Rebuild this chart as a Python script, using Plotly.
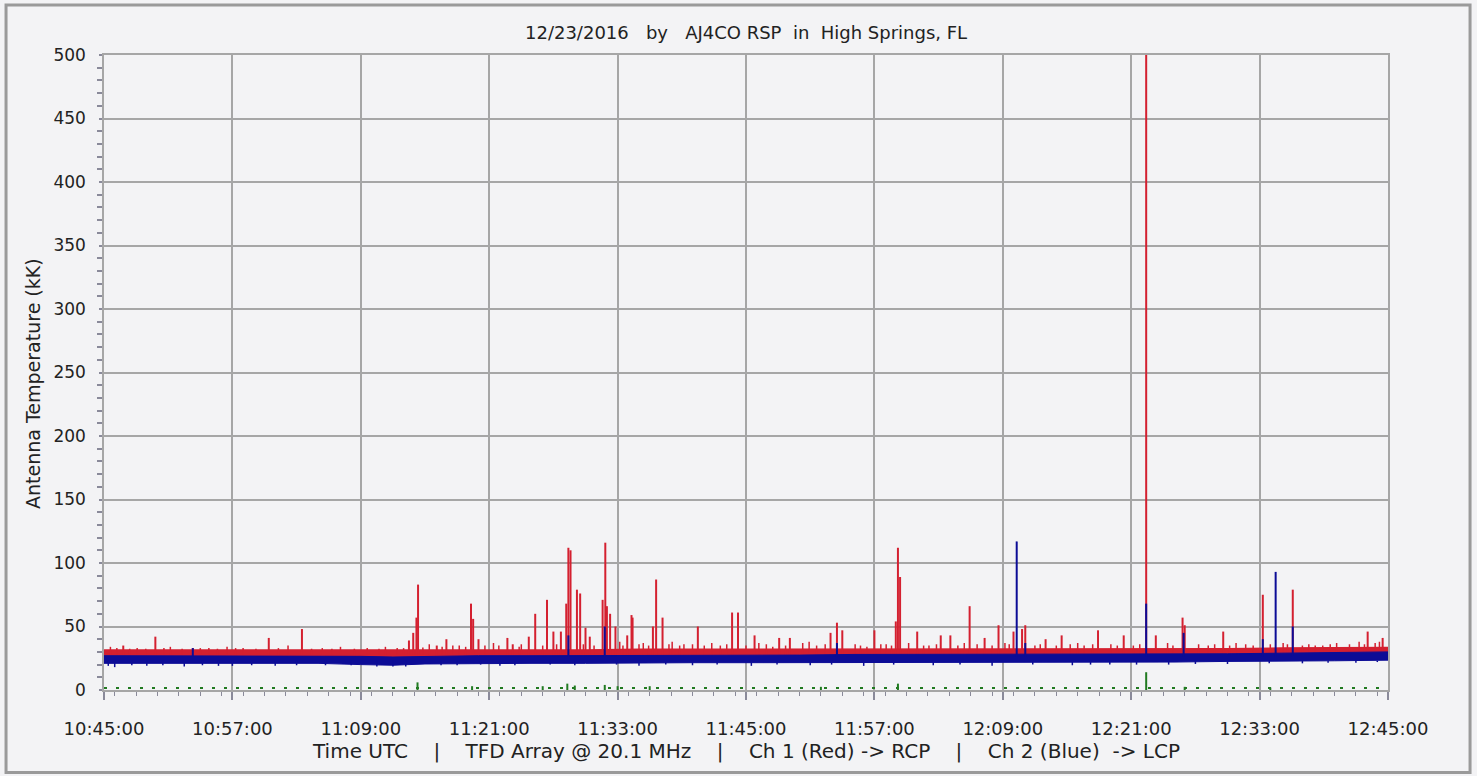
import pandas as pd
import plotly.graph_objects as go

# ---------------- data (minutes after 10:45:00 UTC, values in kK) ----------------
band_min = [0, 5, 10, 15, 20, 24, 27, 30, 35, 40, 45, 50, 55, 60, 65, 70, 75, 80, 85, 90, 95, 100, 105, 110, 115, 120]
red_hi = [31.5, 31.5, 31.5, 31.5, 31.5, 31, 31, 31, 31.5, 31.5, 31.5, 32, 32, 32, 32, 32.5, 32.5, 32.5, 32.5, 32.5, 32.5, 32.5, 32.5, 33, 33, 33.5]
red_lo = [25, 25, 25, 25, 25, 24, 24, 25, 25, 25, 25, 25, 25, 25, 25, 25, 25, 25, 25, 25, 26, 26, 26, 26, 27, 27]
blue_hi = [27, 27, 27, 27, 27, 26.5, 26, 26.5, 27, 27, 27, 27.5, 27.5, 27.5, 27.5, 28, 28, 28, 28, 28, 28, 28.5, 28.5, 29, 29.5, 30]
blue_lo = [21, 21, 21, 21, 21, 20, 19.5, 20.5, 21, 21, 21, 21.5, 21.5, 21.5, 21.5, 21.5, 21.5, 21.5, 21.5, 22, 22, 22, 22.5, 22.5, 23, 23.5]

red_spike_min = [1.8, 4.8, 8.3, 15.4, 18.5, 28.5, 28.9, 29.2, 29.35, 31.1, 32.0, 34.3, 34.5, 35.0, 37.7,
                 38.2, 39.7, 40.3, 41.4, 42.0, 42.7, 43.2, 43.4, 43.6, 44.2, 44.5, 45.0, 45.4, 46.6,
                 46.85, 47.0, 47.3, 47.8, 48.9, 49.3, 49.4, 51.3, 51.6, 52.2, 55.5, 58.7, 59.25, 60.8,
                 63.1, 64.1, 67.9, 68.5, 69.0, 72.0, 74.0, 74.2, 74.4, 76.0, 78.2, 79.1, 80.9, 82.3,
                 83.6, 85.0, 85.8, 86.1, 88.0, 89.5, 92.9, 95.3, 97.4, 98.3, 100.8, 101.0, 104.6,
                 108.3, 111.1, 118.1, 119.5]
red_spike_val = [35, 42, 33, 41, 48, 39, 45, 57, 83, 35, 40, 68, 56, 40, 41,
                 36, 42, 60, 71, 46, 46, 68, 112, 110, 79, 76, 49, 42, 71,
                 116, 66, 60, 50, 43, 59, 57, 50, 87, 57, 50, 61, 61, 43,
                 41, 41, 45, 53, 47, 47, 54, 112, 89, 46, 43, 43, 66, 41,
                 51, 46, 48, 51, 40, 43, 47, 43, 520, 43, 57, 51, 46,
                 75, 79, 46, 41]

red_small_min = [0.6, 1.2, 2.4, 3.1, 3.9, 5.6, 6.2, 7.3, 9.0, 9.8, 10.6, 11.5, 12.3, 13.0, 14.2,
                 16.3, 17.2, 19.4, 20.4, 21.3, 22.1, 23.4, 24.6, 25.7, 26.3, 27.4, 28.0, 29.8,
                 30.4, 31.6, 32.6, 33.2, 33.8, 35.6, 36.4, 36.9, 38.8, 39.0, 41.0, 42.3, 44.8,
                 45.8, 48.2, 48.5, 50.0, 50.4, 50.9, 52.8, 53.1, 53.8, 54.2, 55.0, 56.1, 56.8,
                 57.6, 58.2, 60.0, 61.2, 61.9, 62.5, 63.7, 65.3, 65.9, 66.6, 67.4, 70.2, 70.7,
                 71.3, 72.6, 73.1, 73.6, 75.2, 76.6, 77.1, 77.8, 79.8, 80.4, 81.6, 83.0, 84.2,
                 84.6, 87.0, 87.5, 89.0, 90.3, 91.0, 91.6, 92.4, 94.1, 94.7, 96.2, 96.8, 99.4,
                 99.9, 102.3, 103.2, 103.8, 105.2, 105.8, 106.7, 107.4, 109.0, 110.2, 110.6,
                 112.0, 112.6, 113.2, 113.9, 114.6, 115.2, 116.4, 117.3, 117.8, 118.8, 119.2]
red_small_val = [34, 33, 32.5, 33, 32.5, 33, 34, 32.5, 33, 33, 32.5, 34, 33, 33, 32.5,
                 33, 35, 32.5, 33, 32.5, 34, 32.5, 33, 32.5, 34, 33, 33, 33.5,
                 36, 34, 35, 35, 34, 35, 37, 35, 34, 36, 35, 36, 36,
                 35, 38, 35, 36, 37, 35, 36, 38, 35, 36, 36, 35, 37,
                 35, 36, 35, 37, 36, 34, 35, 37, 38, 35, 36, 36, 35,
                 34, 36, 36, 35, 37, 35, 35, 36, 35, 37, 36, 35, 37,
                 36, 35, 36, 35, 36, 37, 35, 36, 36, 35, 35, 36, 37,
                 35, 36, 35, 36, 35, 37, 36, 35, 36, 37, 36,
                 35, 36, 35, 35, 36, 37, 36, 38, 36, 37, 38]

blue_spike_min = [8.3, 43.4, 46.8, 68.5, 85.3, 86.1, 97.4, 100.9, 108.3, 109.5, 111.1]
blue_spike_val = [33, 43, 50, 37, 117, 37, 68, 45, 40, 93, 50]

blue_dip_min = [0.4, 1.0, 2.6, 4.0, 5.5, 7.5, 9.2, 10.7, 12.0, 13.8, 16.0, 18.0, 20.7, 23.1,
                25.5, 27.0, 28.2, 31.5, 33.0, 35.2, 37.0, 38.4, 41.7, 44.0, 47.9, 50.0, 52.5,
                55.0, 57.3, 60.5, 62.9, 66.0, 68.0, 71.0, 73.8, 77.5, 80.0, 83.0, 86.8, 90.5,
                92.2, 94.0, 96.5, 99.5, 102.0, 105.0, 108.9, 112.0, 114.4, 117.0, 119.0]
blue_dip_val = [19, 18, 19.5, 19, 19.5, 18.5, 19.5, 19, 19, 19.5, 19, 19.5, 19.5, 19.5,
                18.5, 18.5, 18.5, 19.5, 19.5, 20, 19, 19.5, 20, 19.5, 20, 19, 20,
                19.5, 20, 19, 20, 19.5, 20, 19, 20, 19.5, 20, 19, 20, 19.5,
                20, 20, 20, 20, 20.5, 20.5, 21, 21, 21.5, 21.5, 22]

green_base_min = [0, 120]
green_base_val = [1.5, 1.5]
green_bump_min = [29.3, 34.4, 41.0, 43.3, 44.0, 46.8, 48.0, 51.0, 67.0, 74.2, 97.4, 101.0, 109.0]
green_bump_val = [6, 3, 3, 5, 3.5, 4, 3, 3, 2.5, 5, 14, 2.5, 2]

# ---------------- helpers ----------------
T0 = pd.Timestamp("2016-12-23 10:45:00")


def to_time(mins):
    return [T0 + pd.Timedelta(minutes=m) for m in mins]


def segments(mins, vals, base):
    xs, ys = [], []
    for t, v in zip(to_time(mins), vals):
        xs += [t, t, None]
        ys += [base, v, None]
    return xs, ys


RED = "#d42030"
BLUE = "#0c0c96"
GREEN = "#217a21"

fig = go.Figure()

# red band
tb = to_time(band_min)
fig.add_trace(go.Scatter(x=tb, y=red_lo, mode="lines", line=dict(width=0, color=RED),
                         showlegend=False, hoverinfo="skip"))
fig.add_trace(go.Scatter(x=tb, y=red_hi, mode="lines", line=dict(width=1.5, color=RED),
                         fill="tonexty", fillcolor=RED, showlegend=False))
# red small texture spikes
sx, sy = segments(red_small_min, red_small_val, 28)
fig.add_trace(go.Scatter(x=sx, y=sy, mode="lines", line=dict(width=1.5, color=RED),
                         showlegend=False, hoverinfo="skip"))
# red spikes
sx, sy = segments(red_spike_min, red_spike_val, 28)
fig.add_trace(go.Scatter(x=sx, y=sy, mode="lines", line=dict(width=2, color=RED),
                         showlegend=False))

# blue band
fig.add_trace(go.Scatter(x=tb, y=blue_lo, mode="lines", line=dict(width=1, color=BLUE),
                         showlegend=False, hoverinfo="skip"))
fig.add_trace(go.Scatter(x=tb, y=blue_hi, mode="lines", line=dict(width=1, color=BLUE),
                         fill="tonexty", fillcolor=BLUE, showlegend=False))
# blue dips
sx, sy = segments(blue_dip_min, blue_dip_val, 23)
fig.add_trace(go.Scatter(x=sx, y=sy, mode="lines", line=dict(width=1.5, color=BLUE),
                         showlegend=False, hoverinfo="skip"))
# blue spikes
sx, sy = segments(blue_spike_min, blue_spike_val, 26)
fig.add_trace(go.Scatter(x=sx, y=sy, mode="lines", line=dict(width=2, color=BLUE),
                         showlegend=False))

# green channel
fig.add_trace(go.Scatter(x=to_time(green_base_min), y=green_base_val, mode="lines",
                         line=dict(width=2, color=GREEN, dash="3px,9px"),
                         showlegend=False, hoverinfo="skip"))
sx, sy = segments(green_bump_min, green_bump_val, 0)
fig.add_trace(go.Scatter(x=sx, y=sy, mode="lines", line=dict(width=2, color=GREEN),
                         showlegend=False))

BG = "#f3f3f5"
GRID = "#a6a6a6"
FONT = "DejaVu Sans"
TXT = "#222222"
SP = "\u00a0"

title_text = f"12/23/2016{SP*3}by{SP*3}AJ4CO RSP{SP*2}in{SP*2}High Springs, FL"
xlabel_text = (f"Time UTC{SP*4}|{SP*4}TFD Array @ 20.1 MHz{SP*4}|{SP*4}"
               f"Ch 1 (Red) -> RCP{SP*4}|{SP*4}Ch 2 (Blue){SP*2}-> LCP")

fig.update_layout(
    width=1477, height=776,
    margin=dict(l=104, r=89, t=55, b=86),
    paper_bgcolor=BG, plot_bgcolor=BG,
    font=dict(family=FONT, color=TXT),
    showlegend=False,
    xaxis=dict(
        type="date",
        range=[T0, T0 + pd.Timedelta(minutes=120)],
        tick0=T0, dtick=720000, tickformat="%H:%M:%S",
        showgrid=True, gridcolor=GRID, gridwidth=1.5,
        showline=True, linecolor=GRID, linewidth=1.5, mirror=True,
        ticks="outside", ticklen=8, tickwidth=1.5, tickcolor="#8a8a9a",
        ticklabelstandoff=14,
        tickfont=dict(family=FONT, size=18, color=TXT),
        minor=dict(dtick=120000, ticks="outside", ticklen=4, tickwidth=1.2,
                   tickcolor="#8a8a9a", showgrid=False),
        zeroline=False,
    ),
    yaxis=dict(
        range=[0, 500], dtick=50,
        showgrid=True, gridcolor=GRID, gridwidth=1.5,
        showline=True, linecolor=GRID, linewidth=1.5, mirror=True,
        ticks="outside", ticklen=3, tickwidth=1.5, tickcolor="#8a8a9a",
        ticklabelstandoff=10,
        tickfont=dict(family=FONT, size=17, color=TXT),
        minor=dict(dtick=10, ticks="outside", ticklen=5, tickwidth=1.5,
                   tickcolor="#8a8a9a", showgrid=False),
        zeroline=False,
    ),
    shapes=[dict(type="rect", xref="paper", yref="paper",
                 x0=-0.0763, x1=1.0639, y0=-0.13, y1=1.0787,
                 line=dict(color="#9a9a9a", width=3), fillcolor="rgba(0,0,0,0)",
                 layer="below")],
    annotations=[
        dict(text=title_text,
             xref="paper", yref="paper", x=0.5, y=1.036, xanchor="center", yanchor="middle",
             showarrow=False, font=dict(family=FONT, size=18, color=TXT)),
        dict(text=xlabel_text,
             xref="paper", yref="paper", x=0.5, y=-0.096, xanchor="center", yanchor="middle",
             showarrow=False, font=dict(family=FONT, size=20, color=TXT)),
        dict(text="Antenna Temperature (kK)",
             xref="paper", yref="paper", x=-0.0553, y=0.4835, xanchor="center", yanchor="middle",
             textangle=-90, showarrow=False, font=dict(family=FONT, size=19, color=TXT)),
    ],
)

fig.write_html("out.html", config={"displayModeBar": False},
               post_script="document.body.style.margin='0px';")
